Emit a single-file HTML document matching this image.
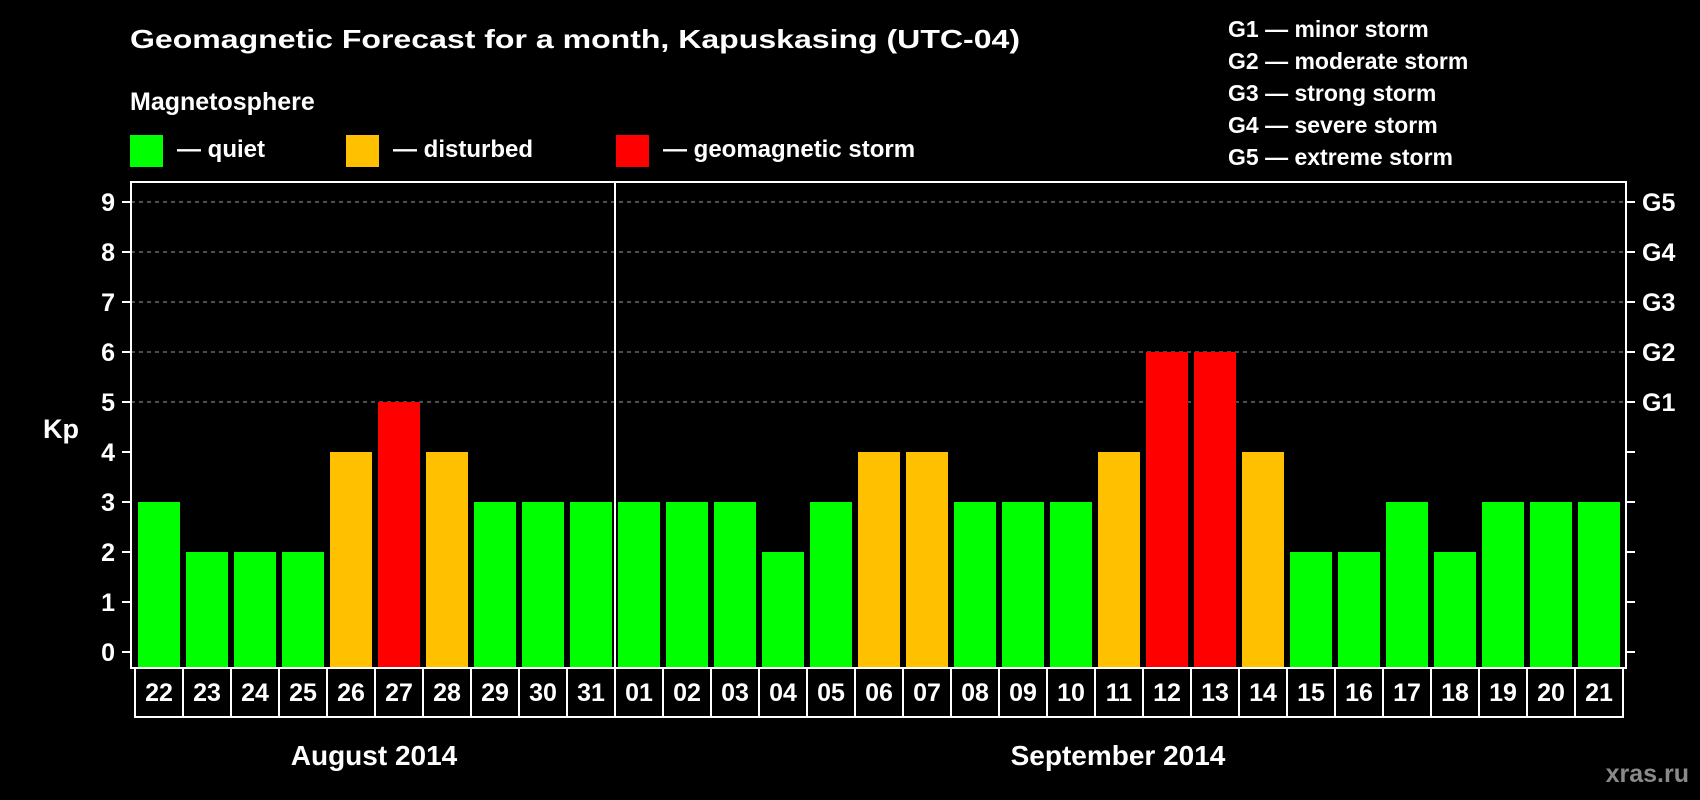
<!DOCTYPE html>
<html><head><meta charset="utf-8"><style>
html,body{margin:0;padding:0;background:#000;}
svg{display:block;font-family:"Liberation Sans",Arial,sans-serif;font-weight:bold;}
</style></head><body>
<svg id="chart" xmlns="http://www.w3.org/2000/svg" width="1700" height="800" viewBox="0 0 1700 800">
<rect width="1700" height="800" fill="#000"/>
<text x="130" y="48" fill="#fff" font-size="26" textLength="890" lengthAdjust="spacingAndGlyphs">Geomagnetic Forecast for a month, Kapuskasing (UTC-04)</text>
<text x="130" y="110" fill="#fff" font-size="25">Magnetosphere</text>
<g><rect x="130" y="135" width="33" height="32" fill="#00ff00"/><text x="177" y="157" fill="#fff" font-size="24">— quiet</text></g>
<g><rect x="346" y="135" width="33" height="32" fill="#ffc000"/><text x="393" y="157" fill="#fff" font-size="24">— disturbed</text></g>
<g><rect x="616" y="135" width="33" height="32" fill="#ff0000"/><text x="663" y="157" fill="#fff" font-size="24">— geomagnetic storm</text></g>
<g fill="#fff" font-size="23">
<text x="1228" y="37">G1 — minor storm</text>
<text x="1228" y="69">G2 — moderate storm</text>
<text x="1228" y="101">G3 — strong storm</text>
<text x="1228" y="133">G4 — severe storm</text>
<text x="1228" y="165">G5 — extreme storm</text>
</g>
<text x="43" y="438" fill="#fff" font-size="27">Kp</text>
<g id="grid"></g><g id="bars"></g><g id="axes"></g>
<text x="374" y="765" fill="#fff" font-size="28" text-anchor="middle">August 2014</text>
<text x="1118" y="765" fill="#fff" font-size="28" text-anchor="middle">September 2014</text>
<text x="1689" y="782" fill="#8a8a8a" font-size="25" text-anchor="end">xras.ru</text>
</svg>
<script>
const days = ["22","23","24","25","26","27","28","29","30","31","01","02","03","04","05","06","07","08","09","10","11","12","13","14","15","16","17","18","19","20","21"];
const kpValues = [3,2,2,2,4,5,4,3,3,3,3,3,3,2,3,4,4,3,3,3,4,6,6,4,2,2,3,2,3,3,3];
const yTicks = [0,1,2,3,4,5,6,7,8,9];
const gLabels = ["","","","","","G1","G2","G3","G4","G5"];
const NS="http://www.w3.org/2000/svg";
const L=131,R=1626,T=182,B=668,X0=135,P=48;
function y(v){return 652-v*50;}
function x(i){return X0+i*P;}
function mk(tag,attrs,parent){const e=document.createElementNS(NS,tag);for(const k in attrs)e.setAttribute(k,attrs[k]);parent.appendChild(e);return e;}
const grid=document.getElementById('grid'),bars=document.getElementById('bars'),axes=document.getElementById('axes');
yTicks.forEach(v=>{
  if(v>=5){const g=mk('line',{x1:L,x2:R,y1:y(v),y2:y(v),stroke:'#9a9a9a','stroke-width':1,'stroke-dasharray':'4,4'},grid);
  
  }
  const t=mk('line',{x1:122,x2:L,y1:y(v),y2:y(v),stroke:'#fff','stroke-width':2},axes);
  
  
  const t2=mk('line',{x1:R,x2:R+9,y1:y(v),y2:y(v),stroke:'#fff','stroke-width':2},axes);
  
  
  const lb=mk('text',{x:115,y:y(v)+9,fill:'#fff','font-size':25,'text-anchor':'end'},axes);
  lb.textContent=v;
  
  
  if(gLabels[v]){const gl=mk('text',{x:1642,y:y(v)+9,fill:'#fff','font-size':25},axes);
  gl.textContent=gLabels[v];
  
  }
});
kpValues.forEach((v,i)=>{
  const c=v>=5?'#ff0000':(v>=4?'#ffc000':'#00ff00');
  const b=mk('rect',{x:x(i)+3,y:y(v),width:42,height:y(0)-y(v)+15,fill:c},bars);
  
  
  const bx=mk('rect',{x:x(i),y:B,width:P,height:49,fill:'none',stroke:'#fff','stroke-width':2},axes);
  
  
  const dl=mk('text',{x:x(i)+P/2,y:701,fill:'#fff','font-size':25,'text-anchor':'middle'},axes);
  dl.textContent=days[i];
  
  
});
const frame=mk('rect',{x:L,y:T,width:R-L,height:B-T,fill:'none',stroke:'#fff','stroke-width':2},axes);


const split=days.indexOf("01");
const dv=mk('line',{x1:x(split),x2:x(split),y1:T,y2:B,stroke:'#fff','stroke-width':2},axes);


</script>
</body></html>
